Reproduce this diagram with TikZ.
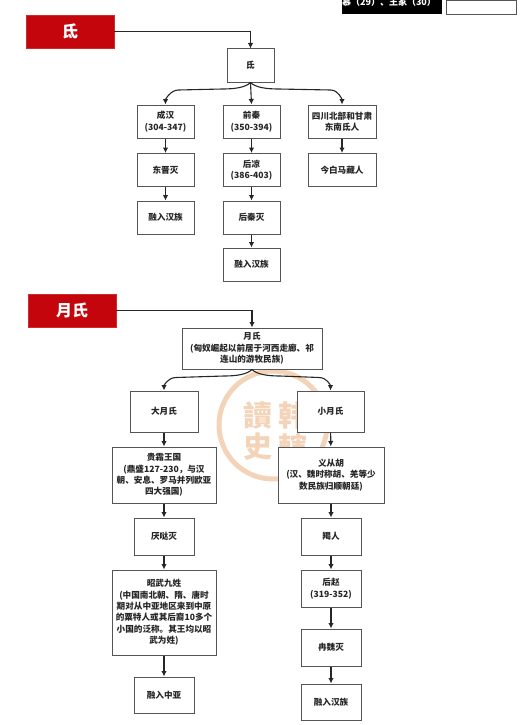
\documentclass[tikz,border=0pt]{standalone}
\usepackage{fontspec}
\usetikzlibrary{arrows.meta}
\setmainfont{Noto Sans CJK SC}
\definecolor{headred}{RGB}{196,6,12}
\definecolor{boxline}{RGB}{85,85,85}
\definecolor{stamp}{RGB}{243,212,184}
\tikzset{
  headbox/.style={fill=headred, draw=headred!85!white, text=white, font=\fontsize{16}{18}\selectfont\bfseries, minimum width=88pt, minimum height=33pt, inner sep=0pt},
  plainbox/.style={draw=boxline, line width=1pt, fill=white, text=black!85, font=\fontsize{8.6}{11.4}\selectfont\bfseries, align=center, inner sep=0pt},
  stamptext/.style={stamp, font=\fontsize{29}{29}\selectfont\bfseries, inner sep=0pt},
  flow/.style={-{Latex[length=5.5pt,width=5.5pt]}, line width=1.1pt, black!85}
}

\begin{document}
\begin{tikzpicture}[x=1pt, y=-1pt]
\useasboundingbox (0,0) rectangle (523,725);

% Watermark behind the second tree
\draw[stamp, line width=5pt] (273,425) circle (54);
\node (stampa) [stamptext] at (258,415) {讀};
\node (stampb) [stamptext] at (293,415) {韩};
\node (stampc) [stamptext] at (258,447) {史};
\node (stampd) [stamptext] at (293,447) {轄};

% Cut-off boxes at the top edge
\node (topblack) [fill=black, minimum width=100pt, minimum height=14pt, inner sep=0pt] at (392,7) {};
\node (toptext) [text=white, inner sep=0pt, font=\fontsize{9}{9}\selectfont\bfseries] at (389,2) {慕（29）、王家（30）};
\node (topwhite) [draw=boxline, minimum width=70pt, minimum height=14pt] at (481,7) {};

% First tree
\node (dihead) [headbox] at (70,31.5) {氐};
\node (di) [plainbox, minimum width=47pt, minimum height=33pt] at (250.5,65.5) {氐};

\node (chenghan) [plainbox, minimum width=57pt, minimum height=33pt] at (165.5,121.5) {成汉\\(304-347)};
\node (qianqin) [plainbox, minimum width=57pt, minimum height=33pt] at (251.5,121.5) {前秦\\(350-394)};
\node (sichuan) [plainbox, minimum width=68pt, minimum height=33pt] at (342,121.5) {四川北部和甘肃\\东南氐人};

\node (dongjin) [plainbox, minimum width=57pt, minimum height=33pt] at (165.5,170) {东晋灭};
\node (houliang) [plainbox, minimum width=57pt, minimum height=33pt] at (251.5,170) {后凉\\(386-403)};
\node (baima) [plainbox, minimum width=68pt, minimum height=33pt] at (342,170) {今白马藏人};

\node (hanone) [plainbox, minimum width=57pt, minimum height=33pt] at (165.5,217.5) {融入汉族};
\node (houqin) [plainbox, minimum width=57pt, minimum height=33pt] at (251.5,217.5) {后秦灭};
\node (hantwo) [plainbox, minimum width=57pt, minimum height=33pt] at (251.5,264.5) {融入汉族};

\draw[flow] (dihead.east) -| (di.north);
\draw[flow] (di.south) .. controls +(-5,5) and +(12,0) .. ++(-28,6.5) -- ++(-44,1) .. controls +(-8,0) and +(0,-5) .. (chenghan.north);
\draw[flow] (di.south) .. controls +(5,5) and +(-12,0) .. ++(28,6.5) -- ++(52,1) .. controls +(8,0) and +(0,-5) .. (sichuan.north);
\draw[flow] (di.south) -- (qianqin.north);
\draw[flow] (chenghan) -- (dongjin);
\draw[flow] (dongjin) -- (hanone);
\draw[flow] (qianqin) -- (houliang);
\draw[flow] (houliang) -- (houqin);
\draw[flow] (houqin) -- (hantwo);
\draw[flow] (sichuan) -- (baima);

% Second tree
\node (yuehead) [headbox] at (72,310.5) {月氏};
\node (yue) [plainbox, minimum width=140pt, minimum height=41pt] at (252,348.5) {月氏\\(匈奴崛起以前居于河西走廊、祁\\连山的游牧民族)};

\node (dayue) [plainbox, minimum width=68pt, minimum height=41pt] at (164,411.5) {大月氏};
\node (xiaoyue) [plainbox, minimum width=67pt, minimum height=41pt] at (330.5,411.5) {小月氏};

\node (guishuang) [plainbox, minimum width=104pt, minimum height=56pt] at (164,475) {贵霜王国\\(鼎盛127-230，与汉\\朝、安息、罗马并列欧亚\\四大强国)};
\node (yicong) [plainbox, minimum width=106pt, minimum height=56pt] at (331,475) {义从胡\\(汉、魏时称胡、羌等少\\数民族归顺朝廷)};

\node (yanda) [plainbox, minimum width=60pt, minimum height=37pt] at (164,536.5) {厌哒灭};
\node (jie) [plainbox, minimum width=60pt, minimum height=37pt] at (331,536.5) {羯人};

\node (zhaowu) [plainbox, minimum width=104pt, minimum height=85pt] at (164,612.5) {昭武九姓\\(中国南北朝、隋、唐时\\期对从中亚地区来到中原\\的粟特人或其后裔10多个\\小国的泛称。其王均以昭\\武为姓)};
\node (houzhao) [plainbox, minimum width=60pt, minimum height=37pt] at (331,588.5) {后赵\\(319-352)};
\node (ranwei) [plainbox, minimum width=60pt, minimum height=37pt] at (331,647.5) {冉魏灭};

\node (zhongya) [plainbox, minimum width=60pt, minimum height=36pt] at (164,695) {融入中亚};
\node (hanthree) [plainbox, minimum width=60pt, minimum height=36pt] at (331,702) {融入汉族};

\draw[flow] (yuehead.east) -| (yue.north);
\draw[flow] (yue.south) .. controls +(-5,5) and +(12,0) .. ++(-28,6.5) -- ++(-48,1.5) .. controls +(-8,0) and +(0,-5) .. (dayue.north);
\draw[flow] (yue.south) .. controls +(5,5) and +(-12,0) .. ++(28,6.5) -- ++(39,1.5) .. controls +(8,0) and +(0,-5) .. (xiaoyue.north);
\draw[flow] (dayue) -- (guishuang);
\draw[flow] (guishuang) -- (yanda);
\draw[flow] (yanda) -- (zhaowu);
\draw[flow] (zhaowu) -- (zhongya);
\draw[flow] (xiaoyue) -- (yicong);
\draw[flow] (yicong) -- (jie);
\draw[flow] (jie) -- (houzhao);
\draw[flow] (houzhao) -- (ranwei);
\draw[flow] (ranwei) -- (hanthree);
\end{tikzpicture}
\end{document}
